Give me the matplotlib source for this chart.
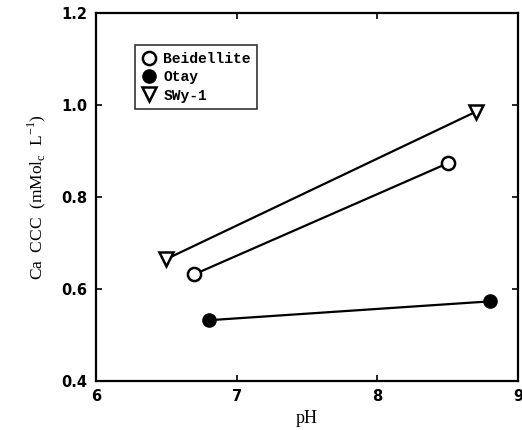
import matplotlib.pyplot as plt

# 데이터
beid_ph = [6.7, 8.5]
beid_ccc = [0.632, 0.873]
otay_ph = [6.8, 8.8]
otay_ccc = [0.532, 0.573]
swy_ph = [6.5, 8.7]
swy_ccc = [0.665, 0.985]

x_ticks = [6, 7, 8, 9]
y_ticks = [0.4, 0.6, 0.8, 1.0, 1.2]

fig = plt.figure(figsize=(5.22, 4.3), dpi=100)
ax = fig.add_axes([0.184, 0.114, 0.808, 0.856])

ax.plot(beid_ph, beid_ccc, "-o", color="black", mfc="white", mec="black",
        ms=9.5, mew=1.8, lw=1.6, label="Beidellite")
ax.plot(otay_ph, otay_ccc, "-o", color="black", ms=9.5, lw=1.6, label="Otay")
ax.plot(swy_ph, swy_ccc, "-v", color="black", mfc="white", mec="black",
        ms=9.5, mew=1.8, lw=1.6, label="SWy-1")

ax.set_xlim(6, 9)
ax.set_ylim(0.4, 1.2)
ax.set_xticks(x_ticks)
ax.set_yticks(y_ticks)
ax.set_xticklabels([str(t) for t in x_ticks], fontweight="bold",
                   family="DejaVu Sans", fontsize=10.5)
ax.set_yticklabels([f"{t:.1f}" for t in y_ticks], fontweight="bold",
                   family="DejaVu Sans", fontsize=10.5)
ax.tick_params(direction="in", length=4, width=1.2, top=True, right=True, pad=6)
for s in ax.spines.values():
    s.set_linewidth(1.6)

ax.set_xlabel("pH", family="Liberation Serif", fontsize=13, labelpad=4)
ax.set_ylabel("Ca  CCC  (mMol$_\\mathregular{c}$  L$^{\\mathregular{-1}}$)",
              family="Liberation Serif", fontsize=12.5, labelpad=10)

leg = ax.legend(loc="upper left", bbox_to_anchor=(0.092, 0.912),
                borderaxespad=0,
                prop={"family": "Liberation Mono", "weight": "bold", "size": 10.5},
                frameon=True, fancybox=False, edgecolor="black",
                handlelength=1.0, handletextpad=0.5, borderpad=0.45,
                labelspacing=0.3)
leg.get_frame().set_linewidth(1.2)
for h in leg.legend_handles:
    h.set_linestyle("none")

fig.savefig("out.png", dpi=100)
